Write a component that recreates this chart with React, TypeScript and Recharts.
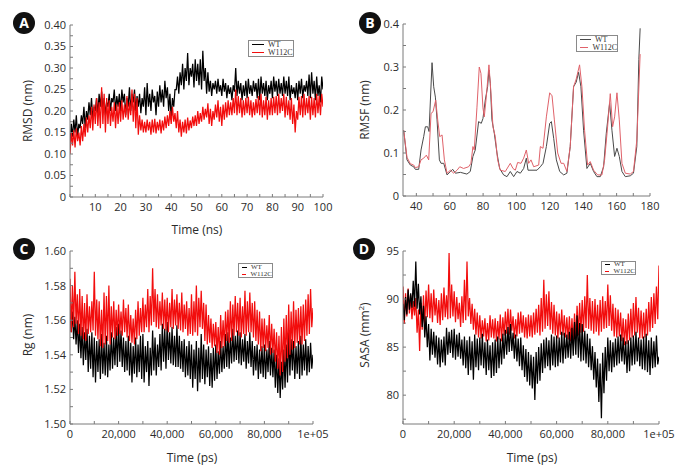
import React from "react";
import { LineChart, Line, XAxis, YAxis } from "recharts";

// ---- Panel A: RMSD (nm) vs time (ns), one sample every 0.5 ns ----
const RMSD_DT = 0.5;
const rmsdWT = [
  0.12, 0.17, 0.14, 0.18, 0.15, 0.19, 0.14, 0.17, 0.16, 0.19,
  0.17, 0.21, 0.16, 0.2, 0.18, 0.22, 0.19, 0.23, 0.18, 0.21,
  0.2, 0.23, 0.19, 0.24, 0.21, 0.245, 0.2, 0.23, 0.19, 0.22,
  0.21, 0.24, 0.2, 0.23, 0.22, 0.25, 0.2, 0.235, 0.21, 0.24,
  0.2, 0.25, 0.22, 0.24, 0.19, 0.23, 0.21, 0.255, 0.2, 0.24,
  0.22, 0.25, 0.2, 0.235, 0.21, 0.24, 0.195, 0.23, 0.21, 0.255,
  0.19, 0.265, 0.21, 0.24, 0.2, 0.25, 0.22, 0.235, 0.19, 0.245,
  0.21, 0.26, 0.22, 0.25, 0.21, 0.27, 0.23, 0.255, 0.2, 0.24,
  0.18, 0.23, 0.21, 0.25, 0.25, 0.28, 0.24, 0.29, 0.26, 0.31,
  0.25, 0.3, 0.27, 0.335, 0.26, 0.3, 0.28, 0.31, 0.255, 0.32,
  0.27, 0.31, 0.26, 0.32, 0.25, 0.34, 0.27, 0.3, 0.24, 0.29,
  0.245, 0.27, 0.235, 0.265, 0.25, 0.27, 0.24, 0.275, 0.245, 0.26,
  0.235, 0.275, 0.245, 0.265, 0.23, 0.26, 0.24, 0.255, 0.225, 0.26,
  0.245, 0.3, 0.235, 0.27, 0.24, 0.265, 0.225, 0.26, 0.235, 0.27,
  0.23, 0.275, 0.24, 0.26, 0.235, 0.27, 0.245, 0.265, 0.23, 0.275,
  0.225, 0.28, 0.24, 0.265, 0.235, 0.27, 0.225, 0.26, 0.24, 0.27,
  0.23, 0.28, 0.245, 0.27, 0.235, 0.275, 0.24, 0.265, 0.235, 0.28,
  0.24, 0.27, 0.235, 0.28, 0.225, 0.26, 0.24, 0.255, 0.23, 0.265,
  0.225, 0.27, 0.24, 0.275, 0.23, 0.26, 0.245, 0.27, 0.235, 0.285,
  0.23, 0.29, 0.24, 0.27, 0.225, 0.28, 0.235, 0.26, 0.22, 0.28,
  0.25,
];
const rmsdMut = [
  0.1, 0.15, 0.12, 0.155, 0.115, 0.16, 0.13, 0.15, 0.12, 0.165,
  0.13, 0.17, 0.14, 0.185, 0.15, 0.19, 0.16, 0.21, 0.155, 0.215,
  0.17, 0.23, 0.165, 0.22, 0.16, 0.255, 0.17, 0.24, 0.15, 0.23,
  0.17, 0.225, 0.165, 0.21, 0.175, 0.22, 0.16, 0.215, 0.17, 0.22,
  0.175, 0.225, 0.18, 0.215, 0.185, 0.235, 0.18, 0.22, 0.19, 0.25,
  0.175, 0.24, 0.16, 0.23, 0.145, 0.19, 0.155, 0.18, 0.15, 0.175,
  0.15, 0.18, 0.155, 0.175, 0.145, 0.18, 0.15, 0.182, 0.148, 0.175,
  0.155, 0.18, 0.148, 0.178, 0.155, 0.187, 0.16, 0.19, 0.165, 0.2,
  0.17, 0.21, 0.175, 0.195, 0.16, 0.2, 0.15, 0.18, 0.14, 0.175,
  0.15, 0.18, 0.148, 0.185, 0.155, 0.178, 0.16, 0.187, 0.165, 0.19,
  0.165, 0.2, 0.17, 0.195, 0.175, 0.21, 0.18, 0.205, 0.185, 0.218,
  0.17, 0.205, 0.165, 0.2, 0.18, 0.215, 0.185, 0.225, 0.175, 0.21,
  0.165, 0.215, 0.18, 0.22, 0.185, 0.225, 0.19, 0.22, 0.19, 0.23,
  0.195, 0.25, 0.19, 0.235, 0.195, 0.23, 0.185, 0.225, 0.19, 0.23,
  0.195, 0.233, 0.19, 0.225, 0.185, 0.22, 0.19, 0.228, 0.195, 0.235,
  0.19, 0.24, 0.185, 0.225, 0.19, 0.233, 0.18, 0.225, 0.19, 0.23,
  0.19, 0.233, 0.195, 0.235, 0.19, 0.24, 0.195, 0.23, 0.2, 0.24,
  0.185, 0.233, 0.19, 0.225, 0.18, 0.23, 0.17, 0.215, 0.15, 0.2,
  0.18, 0.233, 0.19, 0.235, 0.185, 0.24, 0.19, 0.23, 0.195, 0.235,
  0.18, 0.233, 0.19, 0.23, 0.185, 0.24, 0.195, 0.235, 0.19, 0.24,
  0.21,
];
const rmsdXMajor = [10, 20, 30, 40, 50, 60, 70, 80, 90, 100];
const rmsdXLabels = ["10", "20", "30", "40", "50", "60", "70", "80", "90", "100"];
const rmsdXMinor = [0, 5, 15, 25, 35, 45, 55, 65, 75, 85, 95];
const rmsdYMajor = [0, 0.05, 0.1, 0.15, 0.2, 0.25, 0.3, 0.35, 0.4];
const rmsdYLabels = ["0", "0.05", "0.10", "0.15", "0.20", "0.25", "0.30", "0.35", "0.40"];
const rmsdYMinor = [0.025, 0.075, 0.125, 0.175, 0.225, 0.275, 0.325, 0.375];

// ---- Panel B: RMSF (nm) per residue ----
const rmsfResWT = [
  32.4, 34.4, 36.4, 38.4, 39.4, 41.4, 42.8, 44.4, 45.4, 46.8, 47.6, 49.4, 50.4, 51.4, 52.4, 53.8, 54.8,
  56.4, 58.4, 60.4, 61.8, 63.4, 66.4, 70.3, 72.3, 73.9, 75.3, 77.3, 78.9, 79.9, 81.3, 82.7, 83.5, 84.3,
  85.3, 86.7, 88.3, 89.9, 92.3, 94.3, 96.3, 98.3, 100.3, 102.3, 104.3, 105.9, 106.9, 109.3, 112.3, 114.3,
  115.9, 117.9, 119.9, 120.9, 122.3, 123.9, 125.9, 128.3, 130.2, 132.2, 134.2, 135.8, 137.2, 138.6, 140.2,
  142.2, 144.2, 146.2, 148.2, 150.2, 152.2, 153.8, 155.8, 157.2, 158.8, 160.2, 161.6, 163.2, 165.2, 168.2,
  170.1, 172.1, 173.3, 174.1,
];
const rmsfWT = [
  0.153, 0.084, 0.072, 0.068, 0.062, 0.062, 0.107, 0.138, 0.161, 0.161, 0.15, 0.31, 0.254, 0.23, 0.177, 0.084, 0.076,
  0.076, 0.049, 0.057, 0.062, 0.053, 0.055, 0.051, 0.057, 0.092, 0.107, 0.173, 0.169, 0.18, 0.223, 0.254, 0.293, 0.262,
  0.177, 0.146, 0.1, 0.064, 0.049, 0.045, 0.057, 0.045, 0.057, 0.053, 0.064, 0.088, 0.06, 0.06, 0.06, 0.068,
  0.076, 0.115, 0.169, 0.173, 0.134, 0.084, 0.057, 0.049, 0.053, 0.115, 0.254, 0.265, 0.288, 0.254, 0.153,
  0.064, 0.076, 0.057, 0.045, 0.045, 0.068, 0.146, 0.216, 0.153, 0.092, 0.111, 0.092, 0.057, 0.045, 0.047,
  0.053, 0.115, 0.317, 0.39,
];
const rmsfResMut = [
  32.4, 34.4, 36.4, 38.4, 39.4, 41.4, 42.8, 44.4, 46, 47.4, 48.8, 50, 51.6, 52.8, 54, 55.4, 56.8, 58.4,
  60.4, 62.4, 64.4, 66, 68.3, 71.3, 72.7, 73.9, 74.7, 76.3, 77.7, 78.7, 79.9, 80.7, 81.9, 83.5, 84.7,
  85.9, 87.3, 88.7, 90.3, 93.3, 96.3, 97.9, 99.3, 100.7, 102.7, 104.3, 105.9, 107.3, 108.7, 110.3, 113.3,
  114.3, 115.9, 117.9, 119.9, 121.3, 122.7, 124.7, 126.7, 128.3, 130.2, 132.2, 134.2, 135.8, 137.8, 139.2,
  140.8, 142.6, 144.2, 146.2, 148.6, 151.2, 152.8, 154.6, 156.2, 157.6, 158.8, 160.2, 161.6, 163.2, 165.2,
  168.2, 170.1, 172.1, 174.1,
];
const rmsfMut = [
  0.153, 0.09, 0.075, 0.072, 0.066, 0.068, 0.084, 0.088, 0.095, 0.084, 0.192, 0.196, 0.223, 0.177, 0.138, 0.142, 0.084, 0.053,
  0.06, 0.053, 0.06, 0.068, 0.064, 0.068, 0.076, 0.115, 0.107, 0.205, 0.3, 0.285, 0.205, 0.184, 0.23, 0.305, 0.24,
  0.161, 0.138, 0.084, 0.06, 0.057, 0.076, 0.064, 0.06, 0.078, 0.076, 0.088, 0.107, 0.076, 0.084, 0.068, 0.072,
  0.115, 0.111, 0.184, 0.24, 0.233, 0.177, 0.1, 0.076, 0.076, 0.057, 0.115, 0.254, 0.272, 0.305, 0.254,
  0.153, 0.072, 0.08, 0.06, 0.049, 0.049, 0.084, 0.161, 0.238, 0.161, 0.184, 0.24, 0.177, 0.076, 0.053,
  0.051, 0.057, 0.13, 0.33,
];
const rmsfXMajor = [40, 60, 80, 100, 120, 140, 160, 180];
const rmsfXLabels = ["40", "60", "80", "100", "120", "140", "160", "180"];
const rmsfXMinor = [50, 70, 90, 110, 130, 150, 170];
const rmsfYMajor = [0, 0.1, 0.2, 0.3, 0.4];
const rmsfYLabels = ["0", "0.1", "0.2", "0.3", "0.4"];
const rmsfYMinor = [0.05, 0.15, 0.25, 0.35];

// ---- Panels C and D: time in ps, one sample every 500 ps ----
const PS_DT = 500;
const rgWT = [
  1.568, 1.553, 1.565, 1.549, 1.562, 1.546, 1.56, 1.541, 1.558, 1.538,
  1.556, 1.534, 1.553, 1.537, 1.555, 1.53, 1.551, 1.532, 1.553, 1.527,
  1.55, 1.524, 1.548, 1.53, 1.549, 1.526, 1.552, 1.529, 1.547, 1.528,
  1.551, 1.527, 1.546, 1.531, 1.553, 1.532, 1.55, 1.534, 1.556, 1.533,
  1.558, 1.536, 1.554, 1.533, 1.55, 1.53, 1.548, 1.531, 1.551, 1.528,
  1.547, 1.524, 1.545, 1.529, 1.55, 1.527, 1.546, 1.53, 1.551, 1.526,
  1.552, 1.524, 1.545, 1.53, 1.548, 1.522, 1.544, 1.528, 1.554, 1.531,
  1.55, 1.528, 1.546, 1.533, 1.552, 1.531, 1.558, 1.536, 1.555, 1.532,
  1.559, 1.537, 1.553, 1.535, 1.556, 1.534, 1.551, 1.533, 1.557, 1.533,
  1.551, 1.532, 1.548, 1.53, 1.549, 1.527, 1.545, 1.528, 1.548, 1.526,
  1.546, 1.521, 1.543, 1.526, 1.548, 1.519, 1.544, 1.524, 1.552, 1.526,
  1.546, 1.523, 1.543, 1.527, 1.545, 1.522, 1.541, 1.521, 1.544, 1.525,
  1.546, 1.526, 1.542, 1.529, 1.548, 1.53, 1.545, 1.532, 1.552, 1.533,
  1.553, 1.532, 1.55, 1.535, 1.555, 1.536, 1.551, 1.537, 1.554, 1.535,
  1.553, 1.534, 1.549, 1.536, 1.552, 1.532, 1.548, 1.535, 1.553, 1.533,
  1.548, 1.528, 1.545, 1.531, 1.546, 1.526, 1.543, 1.529, 1.545, 1.527,
  1.546, 1.526, 1.543, 1.53, 1.548, 1.528, 1.544, 1.527, 1.543, 1.521,
  1.54, 1.518, 1.538, 1.515, 1.536, 1.52, 1.543, 1.521, 1.546, 1.524,
  1.553, 1.528, 1.549, 1.531, 1.548, 1.526, 1.545, 1.529, 1.548, 1.526,
  1.551, 1.528, 1.546, 1.531, 1.549, 1.528, 1.545, 1.53, 1.547, 1.532,
  1.54,
];
const rgMut = [
  1.584, 1.553, 1.58, 1.556, 1.588, 1.558, 1.575, 1.552, 1.578, 1.551,
  1.574, 1.549, 1.57, 1.548, 1.575, 1.552, 1.568, 1.553, 1.571, 1.554,
  1.588, 1.551, 1.572, 1.549, 1.571, 1.545, 1.566, 1.544, 1.576, 1.546,
  1.574, 1.548, 1.58, 1.546, 1.568, 1.55, 1.571, 1.549, 1.566, 1.551,
  1.569, 1.552, 1.565, 1.551, 1.572, 1.553, 1.567, 1.55, 1.569, 1.548,
  1.563, 1.547, 1.561, 1.546, 1.566, 1.549, 1.571, 1.551, 1.567, 1.553,
  1.573, 1.553, 1.569, 1.556, 1.578, 1.553, 1.574, 1.557, 1.59, 1.559,
  1.578, 1.556, 1.575, 1.555, 1.571, 1.557, 1.576, 1.555, 1.572, 1.554,
  1.573, 1.553, 1.57, 1.556, 1.578, 1.555, 1.572, 1.557, 1.575, 1.555,
  1.57, 1.554, 1.576, 1.553, 1.569, 1.555, 1.571, 1.551, 1.567, 1.552,
  1.575, 1.551, 1.571, 1.553, 1.58, 1.551, 1.573, 1.556, 1.577, 1.555,
  1.57, 1.548, 1.569, 1.546, 1.563, 1.547, 1.561, 1.544, 1.558, 1.545,
  1.559, 1.541, 1.556, 1.54, 1.563, 1.544, 1.56, 1.545, 1.565, 1.548,
  1.566, 1.547, 1.571, 1.548, 1.569, 1.551, 1.574, 1.553, 1.57, 1.551,
  1.573, 1.55, 1.568, 1.552, 1.577, 1.551, 1.571, 1.553, 1.576, 1.553,
  1.57, 1.55, 1.571, 1.548, 1.566, 1.546, 1.565, 1.542, 1.561, 1.544,
  1.561, 1.542, 1.557, 1.544, 1.563, 1.54, 1.558, 1.541, 1.555, 1.536,
  1.553, 1.532, 1.551, 1.528, 1.556, 1.53, 1.561, 1.536, 1.563, 1.538,
  1.569, 1.54, 1.565, 1.543, 1.571, 1.544, 1.566, 1.547, 1.567, 1.546,
  1.568, 1.546, 1.569, 1.548, 1.572, 1.551, 1.575, 1.552, 1.578, 1.556,
  1.567,
];
const sasaWT = [
  89.5, 87.8, 90.2, 88.4, 91.0, 88.9, 90.6, 89.1, 91.9, 89.2,
  93.9, 89.0, 91.6, 88.4, 90.3, 87.1, 89.3, 86.0, 88.2, 85.0,
  87.4, 83.6, 86.9, 84.2, 86.6, 83.9, 86.2, 83.2, 86.0, 82.9,
  85.8, 83.4, 86.1, 83.1, 87.0, 84.2, 86.6, 84.4, 86.8, 83.9,
  86.9, 83.7, 86.3, 84.0, 86.5, 83.8, 85.8, 83.1, 86.1, 82.8,
  85.7, 82.1, 86.1, 82.6, 85.6, 81.6, 86.3, 82.9, 85.9, 82.6,
  86.0, 83.1, 86.4, 82.8, 85.5, 82.1, 85.8, 82.6, 85.2, 81.8,
  85.5, 82.0, 85.8, 82.3, 86.1, 82.8, 85.9, 83.2, 86.4, 83.8,
  86.8, 84.2, 87.1, 84.5, 87.4, 84.6, 86.5, 83.8, 86.3, 83.5,
  85.9, 83.0, 86.0, 82.6, 85.2, 81.9, 84.8, 81.4, 84.5, 81.0,
  84.2, 80.7, 84.0, 79.5, 84.5, 81.2, 85.0, 81.5, 85.4, 82.3,
  85.8, 82.8, 86.0, 83.0, 85.7, 82.6, 86.3, 83.1, 86.1, 82.9,
  86.2, 83.0, 86.0, 83.4, 86.6, 83.3, 86.5, 83.8, 86.3, 83.9,
  86.6, 83.8, 87.0, 84.1, 87.6, 84.2, 88.3, 83.9, 87.5, 83.5,
  87.4, 83.6, 86.7, 83.3, 86.4, 82.9, 85.9, 82.6, 85.1, 81.6,
  84.5, 80.8, 83.8, 79.3, 83.3, 77.6, 84.4, 80.2, 85.0, 81.5,
  86.0, 82.5, 85.7, 82.4, 85.5, 82.9, 85.9, 83.1, 86.1, 83.3,
  86.3, 83.5, 86.0, 83.2, 85.6, 82.3, 85.7, 82.5, 86.0, 83.1,
  86.2, 83.2, 86.6, 83.5, 86.0, 83.0, 85.8, 82.7, 86.1, 82.6,
  86.4, 82.4, 85.7, 82.1, 86.0, 82.8, 85.6, 82.9, 86.2, 83.2,
  84.0,
];
const sasaMut = [
  91.3, 87.4, 90.6, 88.2, 91.1, 88.5, 90.4, 87.9, 89.8, 88.3,
  90.1, 86.5, 88.9, 84.6, 89.6, 86.8, 90.4, 87.2, 90.9, 88.1,
  91.5, 88.0, 90.6, 87.6, 91.0, 88.3, 90.1, 87.5, 89.9, 87.3,
  90.6, 87.8, 91.2, 88.1, 90.4, 87.9, 94.8, 88.0, 91.5, 88.2,
  90.8, 87.6, 90.2, 87.9, 89.6, 87.1, 90.3, 87.5, 92.0, 87.8,
  93.9, 88.2, 90.1, 87.4, 89.5, 86.8, 89.0, 86.3, 88.6, 86.0,
  88.3, 85.9, 87.8, 86.1, 88.0, 85.6, 87.5, 85.7, 88.3, 86.0,
  87.9, 85.9, 88.0, 85.6, 87.7, 85.8, 88.4, 85.6, 88.1, 86.2,
  88.7, 86.4, 89.0, 86.3, 88.9, 86.7, 88.2, 85.9, 87.9, 86.1,
  88.6, 86.4, 88.7, 86.5, 88.3, 86.0, 88.1, 85.9, 88.4, 86.1,
  88.3, 86.0, 88.6, 86.3, 89.0, 86.5, 89.4, 86.2, 90.1, 86.6,
  92.0, 86.9, 90.5, 87.2, 90.8, 86.8, 89.7, 86.4, 89.4, 86.2,
  88.7, 85.9, 88.5, 86.3, 88.9, 86.2, 88.3, 86.0, 88.1, 85.8,
  88.2, 85.6, 88.0, 85.4, 88.5, 85.8, 89.3, 86.2, 89.6, 86.5,
  89.9, 86.6, 90.3, 87.0, 92.5, 86.9, 90.1, 86.7, 89.8, 86.4,
  90.0, 86.6, 89.4, 86.2, 89.9, 86.6, 90.3, 86.9, 89.8, 87.0,
  91.5, 87.2, 90.4, 86.7, 89.5, 86.1, 89.1, 86.0, 88.9, 86.1,
  88.6, 85.6, 88.0, 85.2, 87.9, 85.3, 88.5, 85.7, 89.0, 86.0,
  89.6, 86.2, 90.2, 86.5, 89.1, 85.9, 88.8, 85.9, 88.6, 86.0,
  89.0, 86.2, 89.7, 86.6, 90.2, 87.0, 90.6, 87.4, 91.3, 87.9,
  93.5,
];
const psXMajor = [0, 20000, 40000, 60000, 80000, 100000];
const psXLabels = ["0", "20,000", "40,000", "60,000", "80,000", "1e+05"];
const psXMinor = [10000, 30000, 50000, 70000, 90000];
const rgYMajor = [1.5, 1.52, 1.54, 1.56, 1.58, 1.6];
const rgYLabels = ["1.50", "1.52", "1.54", "1.56", "1.58", "1.60"];
const rgYMinor = [1.51, 1.53, 1.55, 1.57, 1.59];
const sasaYMajor = [80, 85, 90, 95];
const sasaYLabels = ["80", "85", "90", "95"];
const sasaYMinor = [77.5, 82.5, 87.5, 92.5];

const FONT = "'Open Sans', 'DejaVu Sans', sans-serif";
const SERIF = "'Liberation Serif', 'DejaVu Serif', serif";
const FRAME = "#7a7a7a";
const TEXT = "#2b2b2b";
const NOISE_W = 1.25;

type Pt = { x: number; y: number };

const toPoints = (xs: number[], ys: number[]): Pt[] => ys.map((y, i) => ({ x: xs[i], y }));
const toTimed = (ys: number[], dt: number): Pt[] => ys.map((y, i) => ({ x: i * dt, y }));

const labelFor = (major: number[], labels: string[]) => (v: number) => {
  const i = major.indexOf(v);
  return i >= 0 ? labels[i] : "";
};

interface Series {
  key: string;
  data: Pt[];
  color: string;
  width: number;
}

interface PanelProps {
  left: number;
  top: number;
  width: number;
  height: number;
  marginTop: number;
  marginRight: number;
  yWidth: number;
  xHeight: number;
  xDomain: [number, number];
  xMajor: number[];
  xMinor: number[];
  xLabels: string[];
  yDomain: [number, number];
  yMajor: number[];
  yMinor: number[];
  yLabels: string[];
  series: Series[];
}

function Panel(p: PanelProps) {
  const xTicks = [...p.xMajor, ...p.xMinor].sort((a, b) => a - b);
  const yTicks = [...p.yMajor, ...p.yMinor].sort((a, b) => a - b);
  const tickStyle = { fill: TEXT, fontSize: 11, fontFamily: FONT };
  return (
    <div style={{ position: "absolute", left: p.left, top: p.top }}>
      <LineChart
        width={p.width}
        height={p.height}
        margin={{ top: p.marginTop, right: p.marginRight, bottom: 0, left: 0 }}
      >
        <XAxis
          xAxisId="bottom"
          dataKey="x"
          type="number"
          domain={p.xDomain}
          ticks={xTicks}
          interval={0}
          allowDataOverflow
          height={p.xHeight}
          stroke={FRAME}
          tickSize={-3}
          tickMargin={9}
          tick={tickStyle}
          tickFormatter={labelFor(p.xMajor, p.xLabels)}
        />
        <XAxis
          xAxisId="top"
          orientation="top"
          type="number"
          domain={p.xDomain}
          ticks={xTicks}
          interval={0}
          allowDataOverflow
          height={0}
          mirror
          stroke={FRAME}
          tickSize={3}
          tickFormatter={() => ""}
        />
        <YAxis
          yAxisId="left"
          type="number"
          domain={p.yDomain}
          ticks={yTicks}
          interval={0}
          allowDataOverflow
          width={p.yWidth}
          stroke={FRAME}
          tickSize={-3}
          tickMargin={7}
          tick={tickStyle}
          tickFormatter={labelFor(p.yMajor, p.yLabels)}
        />
        <YAxis
          yAxisId="right"
          orientation="right"
          type="number"
          domain={p.yDomain}
          ticks={yTicks}
          interval={0}
          allowDataOverflow
          width={0}
          mirror
          stroke={FRAME}
          tickSize={3}
          tickFormatter={() => ""}
        />
        {p.series.map(s => (
          <Line
            key={s.key}
            xAxisId="bottom"
            yAxisId="left"
            data={s.data}
            dataKey="y"
            type="linear"
            stroke={s.color}
            strokeWidth={s.width}
            dot={false}
            activeDot={false}
            isAnimationActive={false}
          />
        ))}
      </LineChart>
    </div>
  );
}

function Badge({ letter, cx, cy }: { letter: string; cx: number; cy: number }) {
  return (
    <div
      style={{
        position: "absolute",
        left: cx - 11,
        top: cy - 11,
        width: 22,
        height: 22,
        borderRadius: "50%",
        background: "#111",
        color: "#fff",
        fontFamily: FONT,
        fontWeight: 700,
        fontSize: 14,
        lineHeight: "22px",
        textAlign: "center",
      }}
    >
      {letter}
    </div>
  );
}

function AxisTitle({ cx, cy, rotate, children }: { cx: number; cy: number; rotate?: boolean; children: React.ReactNode }) {
  return (
    <div
      style={{
        position: "absolute",
        left: cx,
        top: cy,
        transform: `translate(-50%, -50%)${rotate ? " rotate(-90deg)" : ""}`,
        whiteSpace: "nowrap",
        fontFamily: FONT,
        fontSize: 12,
        color: TEXT,
      }}
    >
      {children}
    </div>
  );
}

function SeriesLegend(props: {
  left: number;
  top: number;
  width: number;
  height: number;
  sample: number;
  fontSize: number;
  colors: [string, string];
}) {
  const names = ["WT", "W112C"];
  return (
    <div
      style={{
        position: "absolute",
        left: props.left,
        top: props.top,
        width: props.width,
        height: props.height,
        boxSizing: "border-box",
        border: "1px solid #8a8a8a",
        background: "#fff",
        display: "flex",
        flexDirection: "column",
        justifyContent: "center",
        paddingLeft: 3,
      }}
    >
      {names.map((n, i) => (
        <div key={n} style={{ display: "flex", alignItems: "center", height: props.fontSize }}>
          <div style={{ width: props.sample, height: 1, background: props.colors[i], marginRight: 4 }} />
          <span style={{ fontFamily: SERIF, fontSize: props.fontSize, color: "#333", lineHeight: 1 }}>{n}</span>
        </div>
      ))}
    </div>
  );
}

export default function App() {
  const black = "#000000";
  const red = "#f20d0d";
  return (
    <div style={{ position: "absolute", left: 0, top: 0, width: 688, height: 471, background: "#fff", overflow: "hidden" }}>
      <Panel
        left={0}
        top={0}
        width={344}
        height={240}
        marginTop={25}
        marginRight={21}
        yWidth={70}
        xHeight={43}
        xDomain={[0, 100]}
        xMajor={rmsdXMajor}
        xMinor={rmsdXMinor}
        xLabels={rmsdXLabels}
        yDomain={[0, 0.4]}
        yMajor={rmsdYMajor}
        yMinor={rmsdYMinor}
        yLabels={rmsdYLabels}
        series={[
          { key: "wt", data: toTimed(rmsdWT, RMSD_DT), color: black, width: NOISE_W },
          { key: "mut", data: toTimed(rmsdMut, RMSD_DT), color: red, width: NOISE_W },
        ]}
      />
      <Panel
        left={344}
        top={0}
        width={344}
        height={240}
        marginTop={24}
        marginRight={38}
        yWidth={59}
        xHeight={44}
        xDomain={[32, 180]}
        xMajor={rmsfXMajor}
        xMinor={rmsfXMinor}
        xLabels={rmsfXLabels}
        yDomain={[0, 0.4]}
        yMajor={rmsfYMajor}
        yMinor={rmsfYMinor}
        yLabels={rmsfYLabels}
        series={[
          { key: "wt", data: toPoints(rmsfResWT, rmsfWT), color: "#4a4a4a", width: 1 },
          { key: "mut", data: toPoints(rmsfResMut, rmsfMut), color: "#e0626a", width: 1 },
        ]}
      />
      <Panel
        left={0}
        top={235}
        width={344}
        height={236}
        marginTop={16}
        marginRight={31}
        yWidth={70}
        xHeight={47}
        xDomain={[0, 100000]}
        xMajor={psXMajor}
        xMinor={psXMinor}
        xLabels={psXLabels}
        yDomain={[1.5, 1.6]}
        yMajor={rgYMajor}
        yMinor={rgYMinor}
        yLabels={rgYLabels}
        series={[
          { key: "wt", data: toTimed(rgWT, PS_DT), color: black, width: NOISE_W },
          { key: "mut", data: toTimed(rgMut, PS_DT), color: red, width: NOISE_W },
        ]}
      />
      <Panel
        left={344}
        top={235}
        width={344}
        height={236}
        marginTop={16}
        marginRight={29}
        yWidth={59}
        xHeight={47}
        xDomain={[0, 100000]}
        xMajor={psXMajor}
        xMinor={psXMinor}
        xLabels={psXLabels}
        yDomain={[77, 95]}
        yMajor={sasaYMajor}
        yMinor={sasaYMinor}
        yLabels={sasaYLabels}
        series={[
          { key: "mut", data: toTimed(sasaMut, PS_DT), color: red, width: NOISE_W },
          { key: "wt", data: toTimed(sasaWT, PS_DT), color: black, width: NOISE_W },
        ]}
      />

      <Badge letter="A" cx={24} cy={23} />
      <Badge letter="B" cx={370} cy={23} />
      <Badge letter="C" cx={24} cy={249} />
      <Badge letter="D" cx={364} cy={249} />

      <AxisTitle cx={27} cy={111} rotate>RMSD (nm)</AxisTitle>
      <AxisTitle cx={197} cy={229}>Time (ns)</AxisTitle>
      <AxisTitle cx={364} cy={110} rotate>RMSF (nm)</AxisTitle>
      <AxisTitle cx={27} cy={335} rotate>Rg (nm)</AxisTitle>
      <AxisTitle cx={192} cy={457}>Time (ps)</AxisTitle>
      <AxisTitle cx={364} cy={335} rotate>
        SASA (mm<sup style={{ fontSize: 8 }}>2</sup>)
      </AxisTitle>
      <AxisTitle cx={532} cy={457}>Time (ps)</AxisTitle>

      <SeriesLegend left={248} top={40} width={46} height={17} sample={12} fontSize={8} colors={[black, red]} />
      <SeriesLegend left={576} top={35} width={42} height={17} sample={11} fontSize={8} colors={["#4a4a4a", "#e0626a"]} />
      <SeriesLegend left={238} top={263} width={35} height={15} sample={5} fontSize={7} colors={[black, red]} />
      <SeriesLegend left={601} top={261} width={35} height={14} sample={5} fontSize={7} colors={[black, red]} />
    </div>
  );
}
